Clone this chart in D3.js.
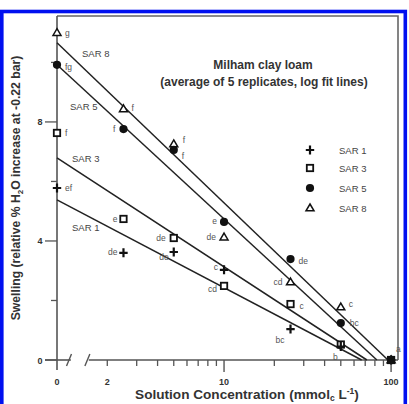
<!DOCTYPE html>
<html><head><meta charset="utf-8">
<script src="https://cdn.jsdelivr.net/npm/d3@7"></script>
<style>body{margin:0;background:#fff}svg{display:block}text{font-family:"Liberation Sans",Arial,sans-serif}</style>
</head><body><svg id="c" width="409" height="404"></svg>
<script>
// ---- data ----
const conc = [0, 2.5, 5, 10, 25, 50, 100];
const sar1 = [5.78, 3.6, 3.63, 3.03, 1.04, 0.45, 0];
const sar3 = [7.63, 4.74, 4.1, 2.49, 1.88, 0.52, 0];
const sar5 = [9.92, 7.76, 7.06, 4.64, 3.39, 1.24, 0];
const sar8 = [11.0, 8.44, 7.26, 4.13, 2.62, 1.78, 0];
const sar1Letters = ["ef","de","de","c","bc","b",""];
const sar3Letters = ["f","e","de","cd","c","",""];
const sar5Letters = ["fg","f","f","e","de","bc","a"];
const sar8Letters = ["g","f","f","de","cd","c",""];
const seriesNames = ["SAR 1","SAR 3","SAR 5","SAR 8"];
const fitIntercept = [5.38, 6.79, 9.92, 10.66];
const fitSlope = [-2.95, -3.66, -5.18, -5.38];
const yTicks = [0, 2, 4, 6, 8, 10];
const yTickLabels = [0, 4, 8];
const xMinorTicks = [3,4,5,6,7,8,9,20,30,40,50,60,70,80,90];
const xTickLabels = ["0","2","10","100"];

// label offsets (style, not data)
const off = {
  "SAR 1": [[8,3,"start"],[-6,2,"end"],[-5,8,"end"],[-6,0,"end"],[-6,14,"end"],[-3,13,"end"],null],
  "SAR 3": [[8,3,"start"],[-6,3,"end"],[-8,3,"end"],[-7,6,"end"],[9,5,"start"],null,null],
  "SAR 5": [[8,5,"start"],[-8,3,"end"],[8,9,"start"],[-7,2,"end"],[8,5,"start"],[9,3,"start"],[5,-8,"start"]],
  "SAR 8": [[8,3,"start"],[8,2,"start"],[9,-1,"start"],[-8,3,"end"],[-8,3,"end"],[8,0,"start"],null]
};

const svg = d3.select("#c");
const x = d3.scaleLog().domain([1, 110]).range([57, 398]);
const y = d3.scaleLinear().domain([0, 11.56]).range([360, 16]);
const xc = c => c === 0 ? x(1) : x(c);
const axisCol = "#555";

// blue frame
svg.append("rect").attr("x",1.8).attr("y",11.5).attr("width",403.5).attr("height",400)
  .attr("fill","none").attr("stroke","#0010f0").attr("stroke-width",3.6);

// plot frame top and right
svg.append("path").attr("d",`M${x(1)},${y(11.56)}H${x(110)}V${y(0)}`)
  .attr("fill","none").attr("stroke","#666").attr("stroke-width",1.6);

// y axis
svg.append("line").attr("x1",x(1)).attr("x2",x(1)).attr("y1",y(11.56)).attr("y2",y(0)+10)
  .attr("stroke",axisCol).attr("stroke-width",1.6);
yTicks.forEach(t=>{
  const major = yTickLabels.includes(t);
  svg.append("line").attr("x1",x(1)-(major?12:6)).attr("x2",x(1)).attr("y1",y(t)).attr("y2",y(t))
    .attr("stroke",axisCol).attr("stroke-width",1.3);
});
yTickLabels.forEach(t=>{
  svg.append("text").attr("x",x(1)-17).attr("y",y(t)+3.5).attr("text-anchor","middle")
    .attr("font-size",9).attr("font-weight","bold").attr("fill","#333").text(t);
});

// x axis with break
svg.append("line").attr("x1",45).attr("x2",x(1.21)).attr("y1",y(0)).attr("y2",y(0)).attr("stroke",axisCol).attr("stroke-width",1.6);
svg.append("line").attr("x1",x(1.55)).attr("x2",x(110)).attr("y1",y(0)).attr("y2",y(0)).attr("stroke",axisCol).attr("stroke-width",1.6);
[1.18,1.52].forEach(b=>{
  svg.append("line").attr("x1",x(b)-2.5).attr("x2",x(b)+2.5).attr("y1",y(0)+6).attr("y2",y(0)-6)
    .attr("stroke",axisCol).attr("stroke-width",1.4);
});
xMinorTicks.concat([2]).forEach(t=>{
  svg.append("line").attr("x1",x(t)).attr("x2",x(t)).attr("y1",y(0)).attr("y2",y(0)+6)
    .attr("stroke",axisCol).attr("stroke-width",1.3);
});
[10,100].forEach(t=>{
  svg.append("line").attr("x1",x(t)).attr("x2",x(t)).attr("y1",y(0)).attr("y2",y(0)+12)
    .attr("stroke",axisCol).attr("stroke-width",1.4);
});
const xTickVals = [1,2,10,100];
xTickLabels.forEach((l,i)=>{
  svg.append("text").attr("x",x(xTickVals[i])).attr("y",385).attr("text-anchor","middle")
    .attr("font-size",9).attr("font-weight","bold").attr("fill","#333").text(l);
});

// axis titles
const xt = svg.append("text").attr("x",247).attr("y",399).attr("text-anchor","middle")
  .attr("font-size",13.6).attr("font-weight","bold").attr("fill","#333");
xt.append("tspan").text("Solution Concentration (mmol");
xt.append("tspan").attr("font-size",8.5).attr("dy",1.8).text("c");
xt.append("tspan").attr("dy",-1.8).text(" L");
xt.append("tspan").attr("font-size",8.5).attr("dy",-5).text("-1");
xt.append("tspan").attr("dy",5).text(")");

const yt = svg.append("text").attr("transform","translate(20,188) rotate(-90)").attr("text-anchor","middle")
  .attr("font-size",12.2).attr("font-weight","bold").attr("fill","#333");
yt.append("tspan").text("Swelling (relative % H");
yt.append("tspan").attr("font-size",8).attr("dy",2.5).text("2");
yt.append("tspan").attr("dy",-2.5).text("O increase at -0.22 bar)");

// chart title
svg.append("text").attr("x",263).attr("y",69).attr("text-anchor","middle").attr("font-size",12)
  .attr("font-weight","bold").attr("fill","#333").text("Milham clay loam");
svg.append("text").attr("x",264).attr("y",86).attr("text-anchor","middle").attr("font-size",12)
  .attr("font-weight","bold").attr("fill","#333").text("(average of 5 replicates, log fit lines)");

// fit lines
const seriesVals = [sar1, sar3, sar5, sar8];
const seriesLetters = [sar1Letters, sar3Letters, sar5Letters, sar8Letters];
seriesNames.forEach((n,i)=>{
  const a = fitIntercept[i], b = fitSlope[i];
  const cEnd = Math.pow(10, -a/b);
  svg.append("line").attr("x1",x(1)).attr("y1",y(a)).attr("x2",x(cEnd)).attr("y2",y(0))
    .attr("stroke","#222").attr("stroke-width",1.5);
});

// line labels
const lineLabelPos = [[72,231],[72,162],[70,110],[82,57]];
seriesNames.forEach((n,i)=>{
  svg.append("text").attr("x",lineLabelPos[i][0]).attr("y",lineLabelPos[i][1]).attr("font-size",9.5)
    .attr("fill","#444").text(n);
});

// markers
function marker(g, type, cx, cy){
  if(type===0){
    g.append("path").attr("d",`M${cx-4.2},${cy}H${cx+4.2}M${cx},${cy-4.5}V${cy+4.5}`)
      .attr("stroke","#111").attr("stroke-width",2.2);
  } else if(type===1){
    g.append("rect").attr("x",cx-3.2).attr("y",cy-3.2).attr("width",6.4).attr("height",6.4)
      .attr("fill","#fff").attr("stroke","#111").attr("stroke-width",1.8);
  } else if(type===2){
    g.append("circle").attr("cx",cx).attr("cy",cy).attr("r",4.1).attr("fill","#111");
  } else {
    g.append("path").attr("d",`M${cx},${cy-4}L${cx+4},${cy+2.8}L${cx-4},${cy+2.8}Z`)
      .attr("fill","#fff").attr("stroke","#111").attr("stroke-width",1.5);
  }
}
const pg = svg.append("g");
[3,1,0,2].forEach(i=>{
  seriesVals[i].forEach((v,j)=>{
    marker(pg, i, xc(conc[j]), y(v));
  });
});
// point letters
seriesNames.forEach((n,i)=>{
  seriesVals[i].forEach((v,j)=>{
    const l = seriesLetters[i][j], o = off[n][j];
    if(!l || !o) return;
    svg.append("text").attr("x",xc(conc[j])+o[0]).attr("y",y(v)+o[1]).attr("text-anchor",o[2])
      .attr("font-size",8.5).attr("fill","#555").text(l);
  });
});

// legend
const legY = [150,168,188,208];
seriesNames.forEach((n,i)=>{
  marker(svg, i, 310, legY[i]);
  svg.append("text").attr("x",339).attr("y",legY[i]+3.5).attr("font-size",9.5).attr("fill","#444").text(n);
});
</script></body></html>
